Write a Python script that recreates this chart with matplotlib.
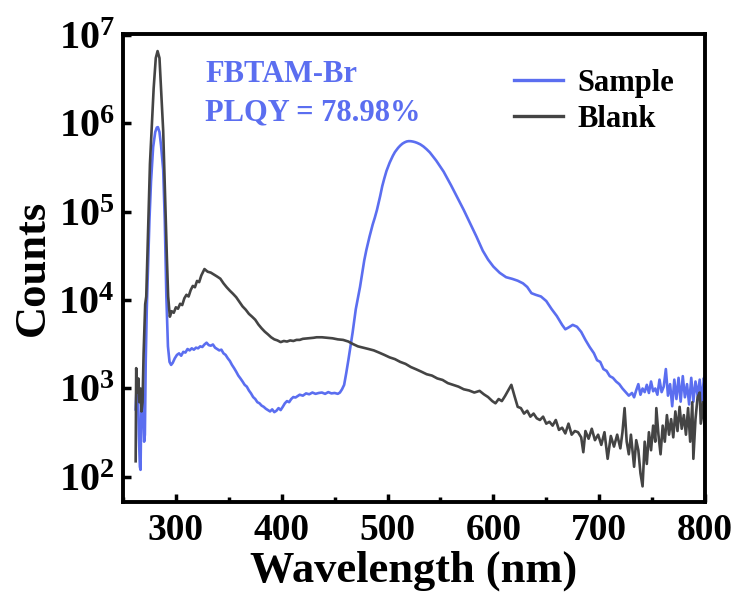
import numpy as np
import matplotlib
matplotlib.use("Agg")
import matplotlib.pyplot as plt
from matplotlib.ticker import MultipleLocator, LogLocator, NullLocator

plt.rcParams['font.family'] = ['Liberation Serif', 'DejaVu Serif']
plt.rcParams['font.weight'] = 'bold'
plt.rcParams['mathtext.fontset'] = 'custom'
plt.rcParams['mathtext.rm'] = 'Liberation Serif:bold'
plt.rcParams['mathtext.bf'] = 'Liberation Serif:bold'
plt.rcParams['mathtext.it'] = 'Liberation Serif:bold'

# Sample spectrum
sample_nm = [262, 263, 264, 265, 266, 266.6, 267.5, 268.5, 269, 270, 270.7, 271.5, 272.5, 273.8,
             275, 276.5, 278.5, 280.5, 282, 283, 284.5, 286, 288, 289.5, 291, 292.5, 294, 295.5,
             297, 299, 301, 303, 305, 307, 309, 311, 313, 315, 317, 319, 321, 323, 325, 327, 329,
             331, 333, 335, 337, 339, 341, 343, 345, 347, 349, 351, 353, 355, 357, 359, 361, 363,
             365, 367, 369, 371, 373, 375, 377, 379, 381, 383, 385, 387, 389, 391, 393, 395, 397,
             399, 401, 403, 405, 407, 409, 411, 413, 415, 417, 420, 423, 426, 429, 432, 435, 438,
             441, 444, 447, 450, 453, 455, 457, 459, 461, 463, 465, 467, 470, 472, 474, 476, 478,
             480, 483, 486, 488, 490, 493, 495, 497, 499, 502, 505, 507, 510, 512, 514, 516, 518,
             520, 522, 524, 526, 528, 531, 534, 537, 540, 546, 553, 560, 566, 572, 578,
             584, 590, 595, 600, 606, 612, 618, 623, 628, 632, 636, 640, 645, 650, 655, 660, 665,
             668, 671, 675, 679, 683, 687, 691, 695, 698, 701, 704, 707, 710, 713, 716, 719, 722,
             725, 728, 731, 733, 735, 737, 739, 741, 743, 745, 747, 749, 751, 753, 755, 757, 759,
             761, 763, 765, 767, 769, 771, 773, 775, 777, 779, 781, 783, 785, 787, 789, 791, 793,
             795, 797, 799, 800]
sample_counts = [580, 1150, 1100, 300, 130, 120, 900, 1000, 600, 250, 300, 2000, 8000, 26000,
                 80000, 220000, 540000, 800000, 900000, 910000, 800000, 560000, 300000, 80000,
                 11000, 3000, 2000, 1850, 1950, 2200, 2400, 2500, 2350, 2600, 2550, 2800, 2700,
                 2850, 2750, 2900, 2850, 3000, 2950, 3150, 3300, 3100, 3050, 3150, 2900, 2800, 2700,
                 2750, 2500, 2400, 2200, 2050, 1850, 1700, 1550, 1400, 1300, 1200, 1100, 1050, 950,
                 880, 800, 760, 700, 680, 640, 620, 590, 570, 550, 580, 540, 560, 600, 570, 620, 680,
                 720, 700, 760, 800, 790, 820, 850, 830, 880, 860, 900, 870, 890, 900, 870, 910, 880,
                 890, 870, 900, 980, 1100, 1500, 2100, 3000, 4300, 7900, 10500, 14100, 20000, 28200,
                 37000, 52500, 72000, 86000, 105000, 150000, 195000, 240000, 290000, 360000,
                 430000, 475000, 530000, 562000, 590000, 610000, 625000, 631000, 630000, 624000,
                 615000, 603000, 580000, 548000, 510000, 470000, 380000, 285000, 200000, 145000,
                 105000, 74100, 52500, 36300, 28800, 24000,
                 20400, 18200, 17400, 16600, 15500, 14100, 12000, 11500, 11000, 9770, 7940, 6600,
                 5250, 4680, 4900, 5250, 5000, 4370, 3550, 2950, 2510, 2090, 2000, 1660, 1580, 1380,
                 1320, 1200, 1120, 1000, 910, 830, 890, 795, 955, 1120, 850, 1000, 910, 1100, 890,
                 1200, 930, 1000, 850, 1260, 910, 1050, 1660, 830, 1120, 630, 1260, 760, 1320, 710,
                 1380, 795, 1120, 660, 1320, 710, 1200, 830, 1260, 720, 1320, 1000]

# Blank spectrum
blank_nm = [262, 262.5, 263.5, 264.5, 265.5, 266.5, 267.5, 268.5, 269.5, 271, 272, 274, 275.5,
            277, 279, 281, 282.7, 284.5, 286, 288, 290, 291.5, 292.7, 294.3, 296, 298, 300, 302,
            304, 306, 308, 310, 312, 314, 316, 318, 320, 322, 324, 327, 330, 333, 336, 339, 342,
            345, 348, 351, 354, 357, 360, 363, 366, 369, 372, 375, 378, 381, 384, 387, 390, 393,
            396, 399, 402, 405, 408, 411, 414, 417, 420, 425, 430, 433, 438, 443, 448, 453, 458,
            463, 467, 472, 477, 482, 487, 492, 497, 502, 507, 512, 517, 522, 527, 532, 537, 542,
            547, 552, 557, 562, 567, 572, 577, 582, 587, 591, 595, 599, 602, 605, 608, 611, 614,
            617, 620, 623, 626, 629, 632, 635, 638, 641, 644, 647, 650, 653, 656, 659, 662, 665,
            668, 671, 674, 677, 680, 683, 685, 687, 690, 693, 696, 699, 702, 705, 708, 711, 714,
            717, 720, 722, 724, 726, 728, 730, 733, 735, 737, 739, 741, 743, 745, 747, 749, 751,
            753, 754, 756, 758, 760, 762, 764, 766, 768, 770, 772, 774, 776, 778, 780, 782, 784,
            786, 788, 789, 791, 793, 795, 796, 798, 800]
blank_counts = [150, 1700, 900, 1300, 700, 1000, 550, 700, 2500, 9000, 11000, 80000, 350000,
                830000, 2500000, 5500000, 6600000, 5500000, 2500000, 830000, 120000, 30000,
                11000, 6500, 7500, 7200, 8300, 8000, 9100, 8800, 10500, 11500, 11000, 13000,
                14500, 14000, 16500, 16000, 19000, 22500, 21000, 20500, 19500, 18500, 17500,
                15500, 14000, 12800, 11800, 10800, 9600, 8500, 7800, 7000, 6500, 6000, 5300, 4800,
                4400, 4100, 3800, 3600, 3500, 3350, 3450, 3400, 3500, 3450, 3550, 3550, 3650, 3700,
                3750, 3800, 3800, 3750, 3700, 3600, 3550, 3400, 3200, 3000, 2900, 2800, 2700, 2550,
                2400, 2250, 2150, 2000, 1900, 1750, 1650, 1550, 1450, 1400, 1300, 1250, 1150, 1100,
                1050, 980, 950, 900, 940, 860, 800, 720, 680, 760, 720, 820, 950, 1100, 820, 620,
                600, 520, 560, 480, 520, 460, 440, 480, 400, 420, 380, 440, 340, 360, 310, 400, 300,
                330, 320, 280, 190, 330, 270, 350, 260, 300, 230, 320, 160, 290, 220, 300, 210, 320,
                600, 250, 180, 300, 130, 260, 200, 110, 78, 250, 140, 320, 200, 380, 250, 600, 300,
                180, 380, 250, 500, 300, 450, 280, 550, 330, 620, 350, 500, 300, 600, 250, 700, 160,
                450, 800, 900, 400, 700, 300]

blue = '#5b6ef0'
gray = '#444444'

fig = plt.figure(figsize=(7.39, 6.04), dpi=100)
ax = fig.add_axes([0.1664, 0.169, 0.7876, 0.7747])

ax.plot(sample_nm, sample_counts, color=blue, lw=1.9, label='Sample')
ax.plot(blank_nm, blank_counts, color=gray, lw=1.9, label='Blank')

ax.set_yscale('log')
ax.set_xlim(250, 800)
ax.set_ylim(52, 1.03e7)

ax.xaxis.set_major_locator(MultipleLocator(100))
ax.xaxis.set_minor_locator(MultipleLocator(50))
ax.yaxis.set_major_locator(LogLocator(base=10, numticks=10))
ax.yaxis.set_minor_locator(NullLocator())

ax.tick_params(axis='both', which='major', direction='in', length=6, width=2.5,
               labelsize=27, top=False, right=False, pad=8)
ax.tick_params(axis='y', which='major', labelsize=29, pad=6)
ax.tick_params(axis='x', which='minor', direction='in', length=3.5, width=2.5, top=False)
for s in ax.spines.values():
    s.set_linewidth(2.8)

ax.set_xlabel('Wavelength (nm)', fontsize=32, fontweight='bold', labelpad=2)
ax.set_ylabel('Counts', fontsize=32, fontweight='bold', labelpad=4)

ax.text(0.141, 0.898, 'FBTAM-Br', transform=ax.transAxes, color=blue,
        fontsize=22, fontweight='bold')
ax.text(0.141, 0.815, 'PLQY = 78.98%', transform=ax.transAxes, color=blue,
        fontsize=22, fontweight='bold')

leg = ax.legend(loc='upper right', bbox_to_anchor=(0.995, 0.985), frameon=False,
                prop={'size': 22, 'weight': 'bold'}, handlelength=1.6,
                handletextpad=0.5, labelspacing=0.25)
for line in leg.get_lines():
    line.set_linewidth(2.4)

fig.savefig('out.png', dpi=100)
